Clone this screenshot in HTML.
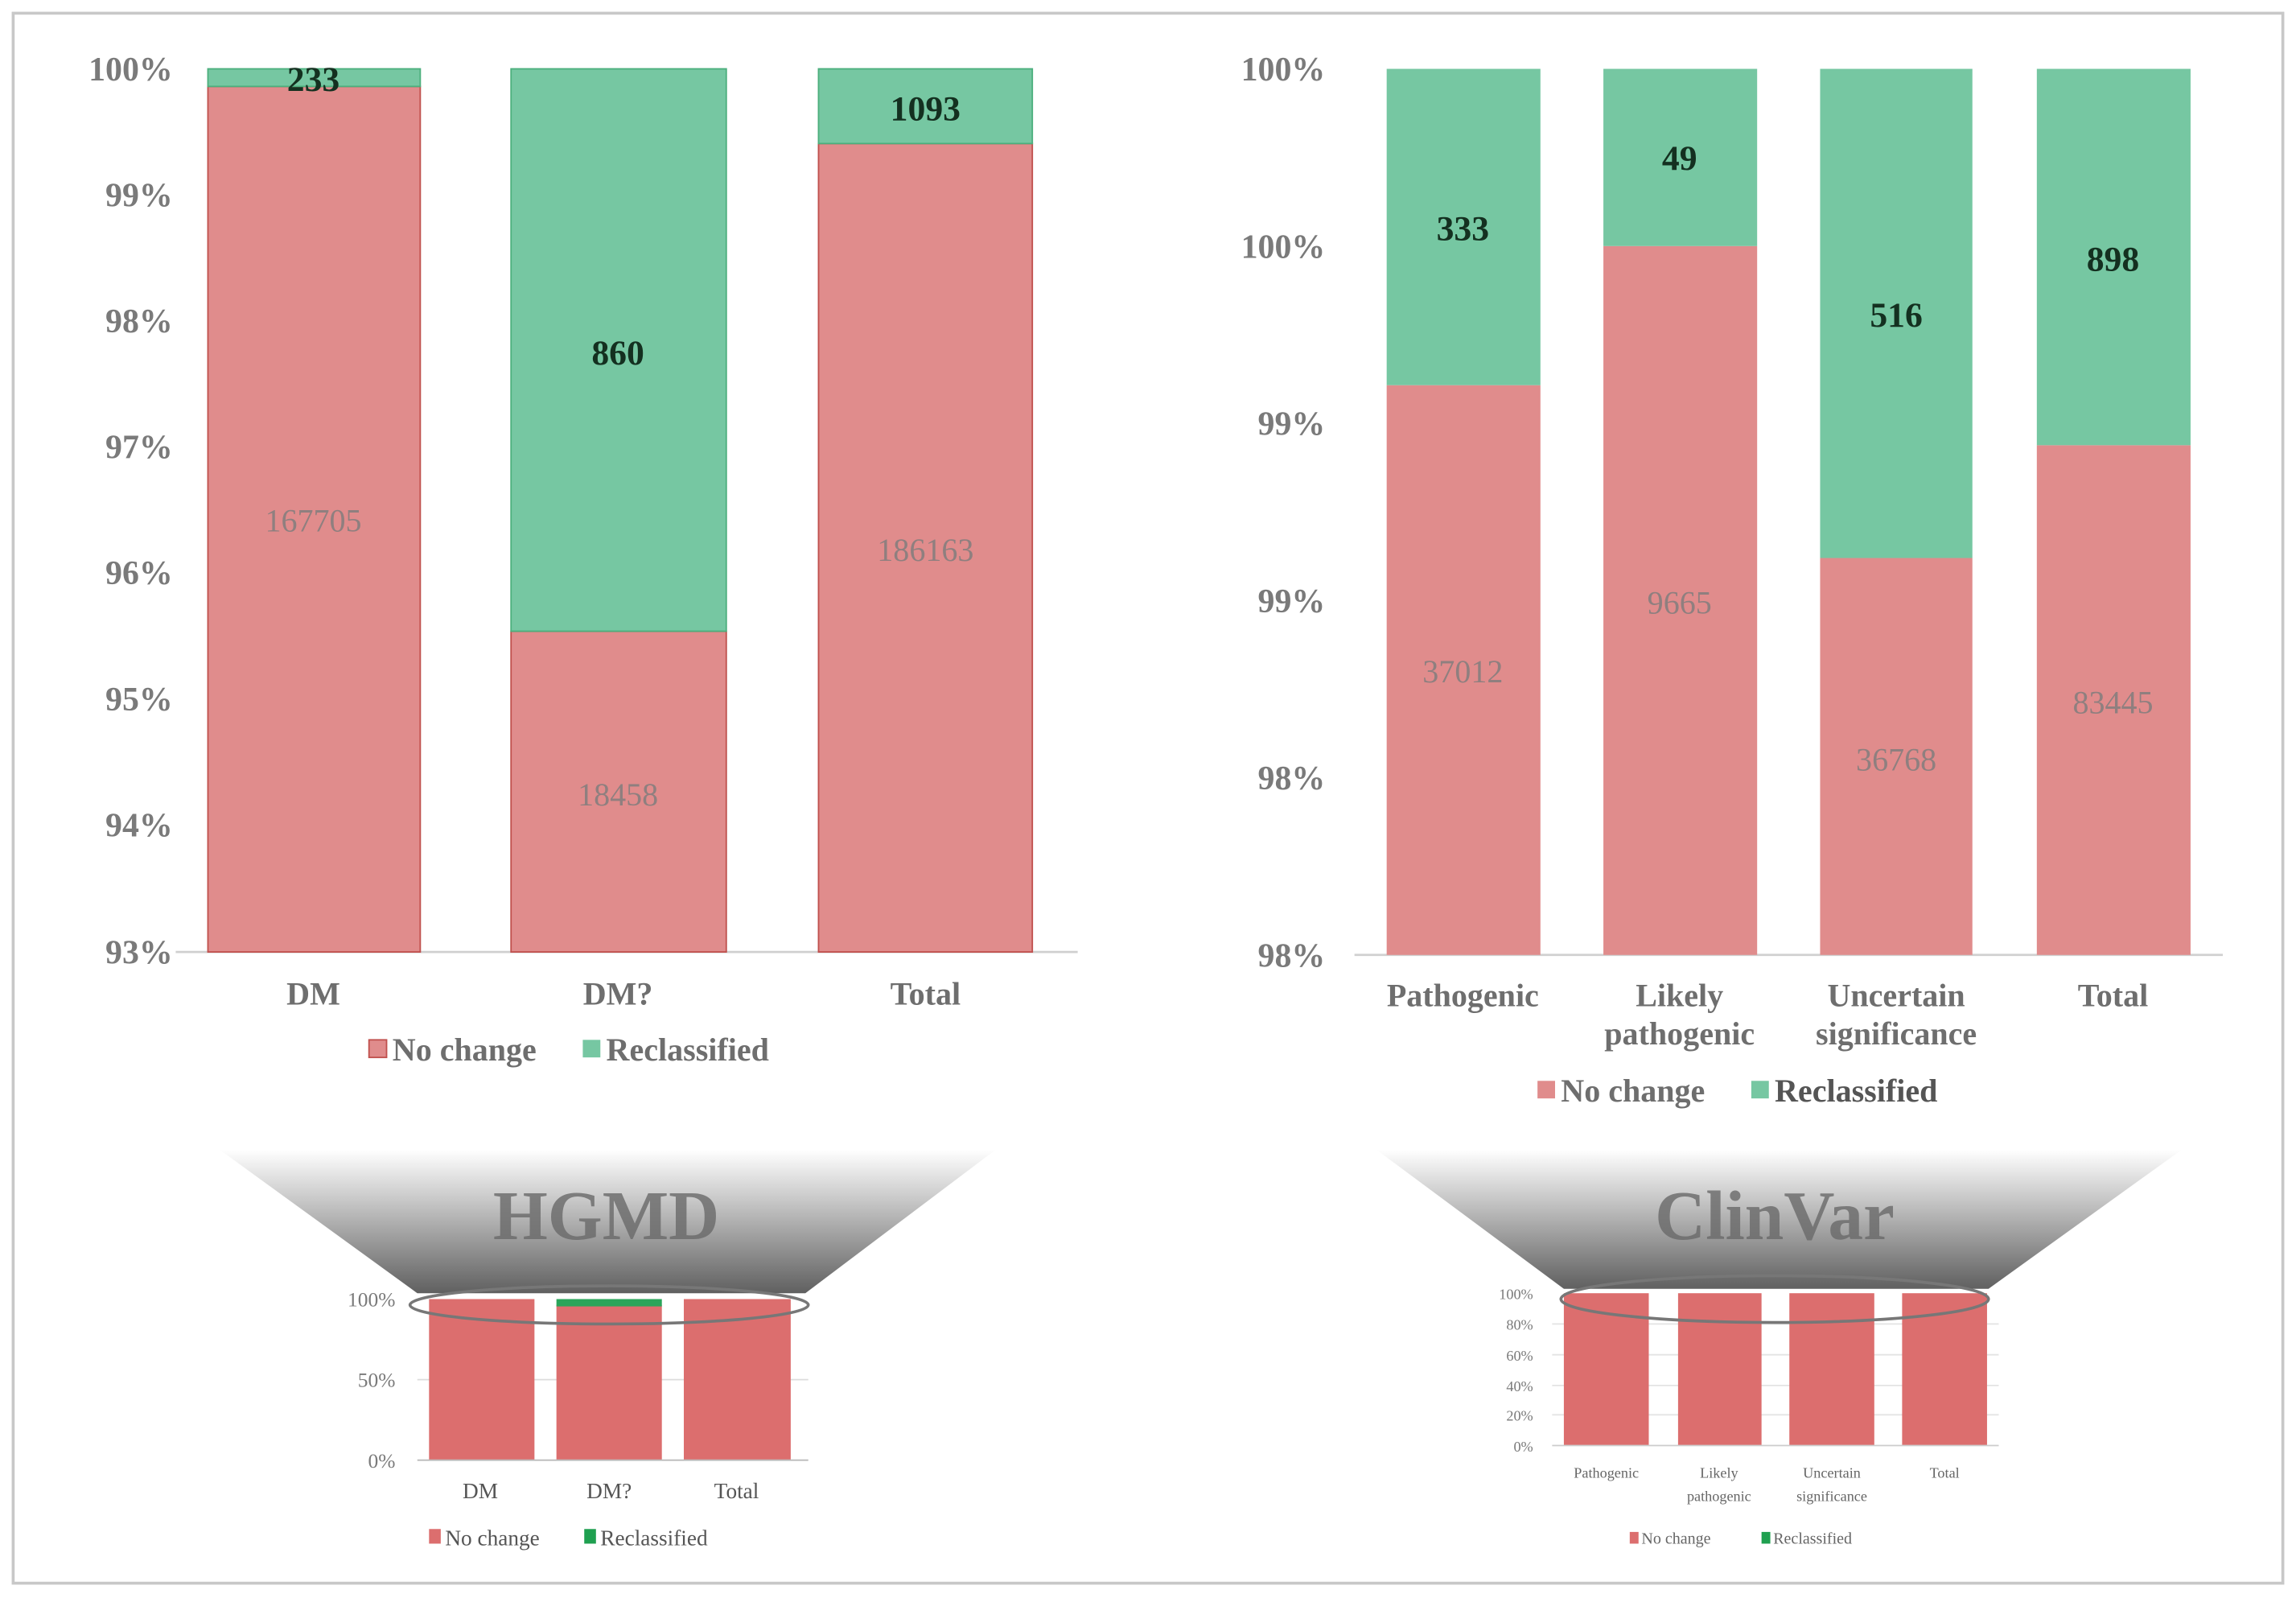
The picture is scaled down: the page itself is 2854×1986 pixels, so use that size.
<!DOCTYPE html>
<html><head><meta charset="utf-8"><style>
html,body{margin:0;padding:0;background:#fff;}
svg{display:block;}
text{font-family:"Liberation Serif",serif;}
</style></head><body>
<svg width="2854" height="1986" viewBox="0 0 1568 1091.1" xmlns="http://www.w3.org/2000/svg">
<defs>
<linearGradient id="fg" x1="0" y1="0" x2="0" y2="1">
<stop offset="0" stop-color="#ffffff"/><stop offset="0.35" stop-color="#c8c8c8"/><stop offset="1" stop-color="#606060"/>
</linearGradient>
</defs>
<rect x="9" y="9" width="1550" height="1072" fill="#fff" stroke="#c8c8c8" stroke-width="2"/>

<!-- LEFT MAIN CHART -->
<g font-weight="bold" fill="#7a7a7a" font-size="23" text-anchor="end">
<text x="118" y="55">100%</text><text x="118" y="141">99%</text><text x="118" y="227">98%</text>
<text x="118" y="313">97%</text><text x="118" y="399">96%</text><text x="118" y="485">95%</text>
<text x="118" y="571">94%</text><text x="118" y="658">93%</text>
</g>
<line x1="120" y1="650" x2="736" y2="650" stroke="#d0d0d0" stroke-width="1.5"/>
<g stroke="#c0504d" stroke-width="1">
<rect x="142" y="59" width="145" height="591" fill="#e08c8c"/>
<rect x="349" y="431" width="147" height="219" fill="#e08c8c"/>
<rect x="559" y="98" width="146" height="552" fill="#e08c8c"/>
</g>
<g stroke="#4caf7d" stroke-width="1">
<rect x="142" y="47" width="145" height="12" fill="#76c7a2"/>
<rect x="349" y="47" width="147" height="384" fill="#76c7a2"/>
<rect x="559" y="47" width="146" height="51" fill="#76c7a2"/>
</g>
<g font-weight="bold" fill="#143020" font-size="24" text-anchor="middle">
<text x="214" y="62">233</text><text x="422" y="249">860</text><text x="632" y="82">1093</text>
</g>
<g fill="#8f7f7f" font-size="22" text-anchor="middle">
<text x="214" y="363">167705</text><text x="422" y="550">18458</text><text x="632" y="383">186163</text>
</g>
<g font-weight="bold" fill="#6e6e6e" font-size="22" text-anchor="middle">
<text x="214" y="686">DM</text><text x="422" y="686">DM?</text><text x="632" y="686">Total</text>
</g>
<rect x="252" y="710" width="12" height="12" fill="#e08c8c" stroke="#c0504d"/>
<text x="268" y="724" font-size="22" font-weight="bold" fill="#6e6e6e">No change</text>
<rect x="398" y="710" width="12" height="12" fill="#76c7a2"/>
<text x="414" y="724" font-size="22" font-weight="bold" fill="#6e6e6e">Reclassified</text>

<!-- RIGHT MAIN CHART -->
<g font-weight="bold" fill="#7a7a7a" font-size="23" text-anchor="end">
<text x="905" y="55">100%</text><text x="905" y="176">100%</text><text x="905" y="297">99%</text>
<text x="905" y="418">99%</text><text x="905" y="539">98%</text><text x="905" y="660">98%</text>
</g>
<line x1="925" y1="652" x2="1518" y2="652" stroke="#d0d0d0" stroke-width="1.5"/>
<g fill="#e08c8c">
<rect x="947" y="263" width="105" height="389"/>
<rect x="1095" y="168" width="105" height="484"/>
<rect x="1243" y="381" width="104" height="271"/>
<rect x="1391" y="304" width="105" height="348"/>
</g>
<g fill="#76c7a2">
<rect x="947" y="47" width="105" height="216"/>
<rect x="1095" y="47" width="105" height="121"/>
<rect x="1243" y="47" width="104" height="334"/>
<rect x="1391" y="47" width="105" height="257"/>
</g>
<g font-weight="bold" fill="#143020" font-size="24" text-anchor="middle">
<text x="999" y="164">333</text><text x="1147" y="116">49</text><text x="1295" y="223">516</text><text x="1443" y="185">898</text>
</g>
<g fill="#8f7f7f" font-size="22" text-anchor="middle">
<text x="999" y="466">37012</text><text x="1147" y="419">9665</text><text x="1295" y="526">36768</text><text x="1443" y="487">83445</text>
</g>
<g font-weight="bold" fill="#6e6e6e" font-size="22" text-anchor="middle">
<text x="999" y="687">Pathogenic</text>
<text x="1147" y="687">Likely</text><text x="1147" y="713">pathogenic</text>
<text x="1295" y="687">Uncertain</text><text x="1295" y="713">significance</text>
<text x="1443" y="687">Total</text>
</g>
<rect x="1050" y="738" width="12" height="12" fill="#e08c8c"/>
<text x="1066" y="752" font-size="22" font-weight="bold" fill="#6e6e6e">No change</text>
<rect x="1196" y="738" width="12" height="12" fill="#76c7a2"/>
<text x="1212" y="752" font-size="22" font-weight="bold" fill="#555">Reclassified</text>

<!-- HGMD funnel -->
<polygon points="150,785 680,785 550,883 285,883" fill="url(#fg)"/>
<text x="414" y="846" font-size="48" font-weight="bold" fill="#6a6a6a" text-anchor="middle" opacity="0.8">HGMD</text>
<g fill="#7a7a7a" font-size="14" text-anchor="end">
<text x="270" y="892">100%</text><text x="270" y="947">50%</text><text x="270" y="1002">0%</text>
</g>
<line x1="285" y1="942" x2="552" y2="942" stroke="#ddd"/>
<g fill="#dc6e6e">
<rect x="293" y="887" width="72" height="110"/>
<rect x="380" y="891" width="72" height="106"/>
<rect x="467" y="887" width="73" height="110"/>
</g>
<rect x="380" y="887" width="72" height="5" fill="#2aa55a"/>
<line x1="285" y1="997" x2="552" y2="997" stroke="#bbb"/>
<ellipse cx="416" cy="891" rx="136" ry="13" fill="none" stroke="#777" stroke-width="2"/>
<g fill="#555" font-size="15" text-anchor="middle">
<text x="328" y="1023">DM</text><text x="416" y="1023">DM?</text><text x="503" y="1023">Total</text>
</g>
<rect x="293" y="1044" width="8" height="10" fill="#dc6e6e"/>
<text x="304" y="1055" font-size="15" fill="#555">No change</text>
<rect x="399" y="1044" width="8" height="10" fill="#1fa050"/>
<text x="410" y="1055" font-size="15" fill="#555">Reclassified</text>

<!-- ClinVar funnel -->
<polygon points="940,785 1490,785 1358,880 1068,880" fill="url(#fg)"/>
<text x="1212" y="846" font-size="48" font-weight="bold" fill="#6a6a6a" text-anchor="middle" opacity="0.8">ClinVar</text>
<g fill="#7a7a7a" font-size="10" text-anchor="end" font-family="Liberation Sans,sans-serif">
<text x="1047" y="887">100%</text><text x="1047" y="908">80%</text><text x="1047" y="929">60%</text>
<text x="1047" y="950">40%</text><text x="1047" y="970">20%</text><text x="1047" y="991">0%</text>
</g>
<g stroke="#e4e4e4"><line x1="1060" y1="904" x2="1365" y2="904"/><line x1="1060" y1="925" x2="1365" y2="925"/><line x1="1060" y1="946" x2="1365" y2="946"/><line x1="1060" y1="966" x2="1365" y2="966"/></g>
<g fill="#dc6e6e">
<rect x="1068" y="883" width="58" height="104"/><rect x="1146" y="883" width="57" height="104"/>
<rect x="1222" y="883" width="58" height="104"/><rect x="1299" y="883" width="58" height="104"/>
</g>
<line x1="1060" y1="987" x2="1365" y2="987" stroke="#ccc"/>
<ellipse cx="1212" cy="887" rx="146" ry="16" fill="none" stroke="#777" stroke-width="2"/>
<g fill="#666" font-size="10" text-anchor="middle" font-family="Liberation Sans,sans-serif">
<text x="1097" y="1009">Pathogenic</text><text x="1174" y="1009">Likely</text><text x="1174" y="1025">pathogenic</text>
<text x="1251" y="1009">Uncertain</text><text x="1251" y="1025">significance</text><text x="1328" y="1009">Total</text>
</g>
<rect x="1113" y="1046" width="6" height="8" fill="#dc6e6e"/>
<text x="1121" y="1054" font-size="11" fill="#666" font-family="Liberation Sans,sans-serif">No change</text>
<rect x="1203" y="1046" width="6" height="8" fill="#1fa050"/>
<text x="1211" y="1054" font-size="11" fill="#666" font-family="Liberation Sans,sans-serif">Reclassified</text>
</svg>
</body></html>
